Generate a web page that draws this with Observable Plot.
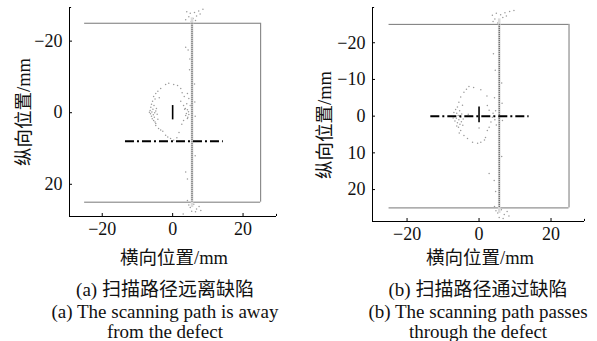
<!DOCTYPE html>
<html><head><meta charset="utf-8">
<script src="https://cdn.jsdelivr.net/npm/d3@7"></script>
<script src="https://cdn.jsdelivr.net/npm/@observablehq/plot@0.6"></script>
<style>
body{margin:0;background:#fff;}
#wrap{position:relative;width:597px;height:341px;overflow:hidden;font-family:"Liberation Serif","Times New Roman","Noto Sans CJK SC",serif;color:#111;}
.p{position:absolute;top:0;}
.t{position:absolute;white-space:nowrap;transform:translate(-50%,-50%);font-size:18.5px;line-height:1;}
.c{position:absolute;white-space:nowrap;transform:translate(-50%,-50%);font-size:19px;line-height:1;}
.v{position:absolute;white-space:nowrap;transform:translate(-50%,-50%) rotate(-90deg);font-size:18.5px;line-height:1;}
</style></head><body><div id="wrap"></div>
<script>
// ---------- data ----------
const xTicksA = [-20, 0, 20];
const yTicksA = [-20, 0, 20];
const xTicksB = [-20, 0, 20];
const yTicksB = [-20, -10, 0, 10, 20];
const plateX = [-25, 25];
const plateY = [-25, 25];
const defectA = {x: 0, y1: -2, y2: 2};
const defectB = {x: 0, y1: -2.5, y2: 1.8};
const pathA = {y: 8, x1: -13.4, x2: 14.4};
const pathB = {y: 0, x1: -13.4, x2: 13.9};
const weldA = {x: 5.5, y1: -25, y2: 25};
const weldB = {x: 5.6, y1: -25, y2: 25};
const xLabel = "横向位置/mm";
const yLabel = "纵向位置/mm";
const captionA = ["(a) 扫描路径远离缺陷", "(a) The scanning path is away", "from the defect"];
const captionB = ["(b) 扫描路径通过缺陷", "(b) The scanning path passes", "through the defect"];

const ringA = [[-2.0,-7.9],[-1.1,-8.2],[0.3,-7.9],[1.4,-7.6],[2.3,-6.8],[-3.4,-6.8],[-4.2,-6.0],[-4.8,-5.4],
 [-5.4,-4.5],[-5.0,-3.8],[-5.7,-3.2],[-6.0,-2.4],[-5.3,-2.0],[-6.2,-1.5],[-5.6,-1.0],[-4.6,-1.2],[-6.4,-0.6],
 [-5.9,-0.2],[-5.1,0.0],[-6.3,0.3],[-5.5,0.6],[-4.4,0.4],[-6.0,1.0],[-5.2,1.3],[-4.8,-0.5],[-5.8,1.7],[-4.2,1.8],
 [-5.4,2.2],[-4.8,3.0],[-4.8,3.6],[-4.0,4.4],[-3.4,4.8],[-2.8,5.2],[-2.0,6.3],[-1.4,6.8],[-0.6,7.2],[0.3,7.7],
 [1.2,7.0],[2.3,-3.2],[3.1,-2.0],[3.6,-1.2],[4.2,-0.8],[4.5,-0.3],[3.9,0.2],[4.6,0.5],[3.7,0.8],[4.3,1.3],
 [3.1,2.2],[2.6,3.2],[3.3,-4.5],[1.8,5.5],[2.7,-5.6],[-3.8,-4.2],[-6.6,-0.1],[-5.0,2.6]];
const sprayA = [[4.0,-28.2],[5.0,-27.8],[6.2,-28.0],[7.4,-28.4],[8.6,-28.9],[4.6,-26.8],[6.8,-27.0],[5.8,-26.3],
 [3.7,-26.0],[7.8,-27.6],[5.3,-25.5],[6.5,-25.8],[3.7,-18.3],[4.4,-17.5],[4.8,-12.0],[6.2,-8.0],[4.2,-5.4],
 [4.6,-4.0],[6.3,-3.0],[4.0,-2.5],[5.0,-2.0],[3.4,-1.0],[6.4,1.0],[4.2,1.6],[3.7,16.6],[4.2,18.5],[6.4,12.0],
 [4.9,-15.0],[4.2,24.5],[5.0,26.5],[6.0,25.6],[6.8,26.9],[7.5,26.2],[8.0,27.3],[5.4,27.5],[6.5,27.7],[4.6,25.8],[3.0,28.3]];
const ringB = [[-2.8,-8.1],[0.5,-7.2],[-4.2,-6.5],[-1.5,-7.8],[-5.1,-5.2],[-5.6,-3.8],[-6.0,-2.5],[-6.5,-1.8],
 [-5.4,-1.5],[-7.0,-1.0],[-6.2,-0.8],[-4.8,-0.6],[-5.8,-0.2],[-6.8,0.1],[-5.1,0.3],[-6.3,0.6],[-4.4,0.8],
 [-5.6,1.0],[-6.7,1.3],[-4.9,1.5],[-6.0,1.8],[-5.3,2.2],[-4.5,2.5],[-6.2,2.7],[-5.7,3.0],[-5.1,3.9],[-4.2,5.3],
 [-3.2,6.1],[-1.8,7.1],[-0.4,7.4],[0.5,7.1],[1.5,6.5],[2.3,-2.9],[2.8,-1.6],[3.7,0.3],[3.3,1.6],[2.8,3.0],
 [2.3,3.9],[3.9,-0.8],[4.4,1.0],[2.2,-5.5],[1.8,5.8],[-3.5,-7.3],[0.0,3.2],[-3.0,-0.5],[-5.5,4.6],[-4.6,-3.0],[-7.2,0.5]];
const sprayB = [[3.7,-27.5],[4.8,-28.0],[6.0,-27.6],[7.2,-28.2],[8.5,-28.5],[9.7,-28.8],[4.4,-26.5],[6.6,-26.9],
 [5.5,-26.2],[3.9,-25.8],[7.6,-27.3],[5.2,-25.4],[4.0,-17.0],[4.5,-12.5],[6.3,-9.0],[4.3,-5.0],[6.4,-3.5],
 [4.6,-1.5],[6.5,1.2],[4.8,2.4],[2.8,15.6],[4.2,17.5],[6.3,11.0],[4.6,20.5],[4.3,24.6],[5.2,26.4],[6.2,25.5],
 [7.0,26.8],[7.8,26.0],[8.3,27.2],[5.6,27.6],[6.7,27.9],[4.7,25.8]];

// ---------- panels ----------
const font = '"Liberation Serif","Times New Roman","Noto Sans CJK SC",serif';
function panel(c) {
  const xmin = c.xDomain[0], xmax = c.xDomain[1];
  const ymin = c.yDomain[0], ymax = c.yDomain[1];
  const kx = 3 * (xmax - xmin) / (c.width - c.ml - c.mr);
  const ky = 3 * (ymax - ymin) / (c.height - c.mt - c.mb);
  return Plot.plot({
    width: c.width, height: c.height,
    marginLeft: c.ml, marginRight: c.mr, marginTop: c.mt, marginBottom: c.mb,
    style: {fontFamily: font, fontSize: "18px", background: "transparent", color: "#111", overflow: "visible"},
    x: {domain: c.xDomain, ticks: c.xTicks, tickSize: 0, tickPadding: 6, label: null},
    y: {domain: c.yDomain, reverse: true, ticks: c.yTicks, tickSize: 0, tickPadding: 7, label: null},
    marks: [
      // plate outline (top, bottom, right)
      Plot.ruleY(plateY, {y: d => d, x1: plateX[0], x2: plateX[1], stroke: "#777", strokeWidth: 1}),
      Plot.ruleX([plateX[1]], {x: d => d, y1: plateY[0], y2: plateY[1], stroke: "#777", strokeWidth: 1}),
      // scatter
      Plot.dot(c.ring, {x: d => d[0], y: d => d[1], r: 0.75, fill: "#9a9a9a", stroke: null}),
      Plot.dot(c.spray, {x: d => d[0], y: d => d[1], r: 0.75, fill: "#9a9a9a", stroke: null}),
      // weld line (dense points)
      Plot.ruleX([c.weld], {x: d => d.x, y1: d => d.y1 - 1.5, y2: d => d.y2 + 1.5, stroke: "#dcdcdc", strokeWidth: 2.6}),
      Plot.ruleX([c.weld], {x: d => d.x, y1: d => d.y1, y2: d => d.y2, stroke: "#444", strokeWidth: 1, strokeDasharray: "1.2,0.8"}),
      // scanning path
      Plot.ruleY([c.path], {y: d => d.y, x1: d => d.x1, x2: d => d.x2, stroke: "#000", strokeWidth: 2, strokeDasharray: "9,3,2,3"}),
      // defect
      Plot.ruleX([c.defect], {x: d => d.x, y1: d => d.y1, y2: d => d.y2, stroke: "#000", strokeWidth: 1.6}),
      // axis lines
      Plot.ruleX([xmin], {x: d => d, y1: ymin, y2: ymax, stroke: "#000", strokeWidth: 1}),
      Plot.ruleY([ymax], {y: d => d, x1: xmin, x2: xmax, stroke: "#000", strokeWidth: 1}),
      // inward ticks
      Plot.ruleY(c.yTicks, {y: d => d, x1: xmin, x2: xmin + kx, stroke: "#000", strokeWidth: 1}),
      Plot.ruleX(c.xTicks, {x: d => d, y1: ymax, y2: ymax - ky, stroke: "#000", strokeWidth: 1}),
      // end caps
      Plot.ruleY([ymin], {y: d => d, x1: xmin, x2: xmin + kx * 0.7, stroke: "#000", strokeWidth: 1}),
      Plot.ruleX([xmax], {x: d => d, y1: ymax, y2: ymax - ky * 0.7, stroke: "#000", strokeWidth: 1})
    ]
  });
}

const wrap = document.getElementById("wrap");
function place(el, left) { el.classList.add("p"); el.style.left = left + "px"; wrap.appendChild(el); }
function text(cls, s, x, y) { const d = document.createElement("div"); d.className = cls; d.textContent = s; d.style.left = x + "px"; d.style.top = y + "px"; wrap.appendChild(d); }

place(panel({width: 290, height: 240, ml: 69, mr: 14, mt: 7, mb: 24,
  xDomain: [-29.3, 29.5], yDomain: [-29.4, 29], xTicks: xTicksA, yTicks: yTicksA,
  ring: ringA, spray: sprayA, weld: weldA, path: pathA, defect: defectA}), 0);
place(panel({width: 297, height: 245, ml: 72, mr: 13, mt: 7, mb: 24,
  xDomain: [-29.6, 29.3], yDomain: [-29.6, 28.7], xTicks: xTicksB, yTicks: yTicksB,
  ring: ringB, spray: sprayB, weld: weldB, path: pathB, defect: defectB}), 300);

text("v", yLabel, 24, 112);
text("v", yLabel, 325, 125);
text("t", xLabel, 174, 258);
text("t", xLabel, 480, 258);
const capY = [289, 311, 331];
captionA.forEach((s, i) => text("c", s, 165, capY[i]));
captionB.forEach((s, i) => text("c", s, 478, capY[i]));
</script>
</body></html>
